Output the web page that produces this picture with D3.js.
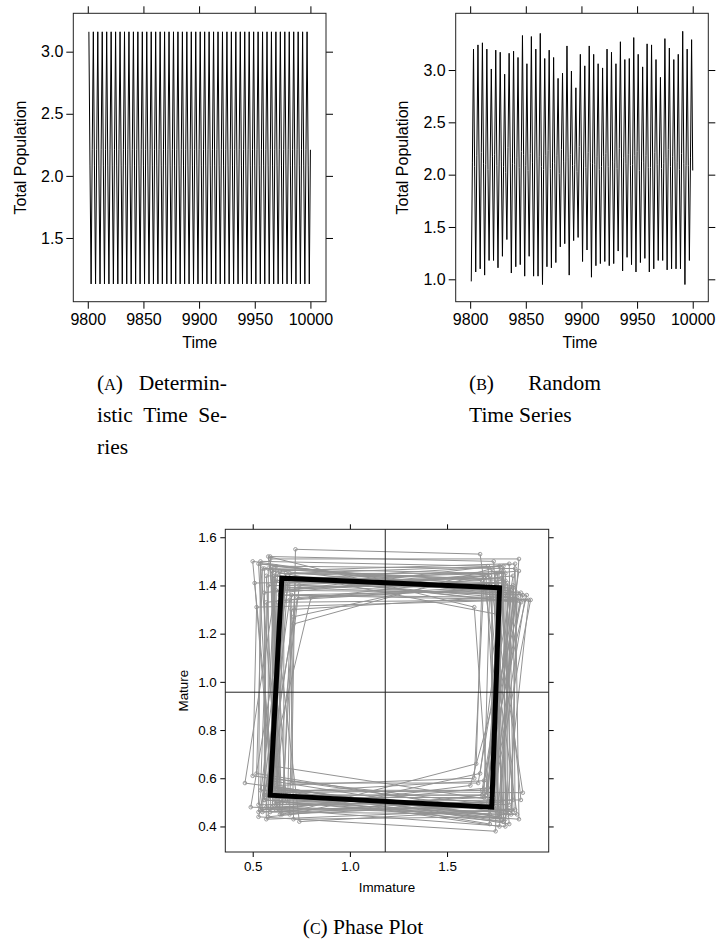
<!DOCTYPE html>
<html>
<head>
<meta charset="utf-8">
<script src="https://cdn.jsdelivr.net/npm/d3@7"></script>
<style>
  body { margin: 0; background: #fff; }
  svg { display: block; }
  .axis text { font-family: "Liberation Sans", Arial, sans-serif; fill: #000; }
  .axis line { stroke: #000; }
  .caption { font-family: "Liberation Serif", "Times New Roman", serif; font-size: 21.5px; fill: #000; }
</style>
</head>
<body>
<script>
// ---- data ----
const timeStart = 9801;
const nCycles = 50;

// deterministic run settles on a 4-cycle (peak, top-left, trough, bottom-right)
const detTotalCycle = [3.16, 2.08, 1.13, 2.21];
const detImmCycle   = [1.77, 0.65, 0.59, 1.73];
const detMatCycle   = [1.39, 1.43, 0.53, 0.48];

// random run, read per cycle: trough, rising mid, peak, falling mid
const randTroughs = [0.98, 1.07, 1.10, 1.04, 1.18, 1.18, 1.11, 1.22, 1.38, 1.06,
                     1.12, 1.14, 1.03, 1.22, 1.03, 1.03, 0.95, 1.12, 1.11, 1.16,
                     1.31, 1.34, 1.04, 1.37, 1.40, 1.17, 1.28, 1.02, 1.13, 1.15,
                     1.17, 1.13, 1.15, 1.27, 1.08, 1.21, 1.14, 1.07, 1.16, 1.20,
                     1.07, 1.10, 1.18, 1.18, 1.09, 1.10, 1.10, 1.10, 0.95, 1.18];
const randMidUp = [2.12, 2.18, 2.21, 2.10, 2.15, 2.19, 2.13, 2.08, 2.26, 2.11,
                   2.16, 2.22, 2.09, 2.20, 2.14, 2.17, 2.05, 2.23, 2.12, 2.18,
                   2.24, 2.13, 2.19, 2.10, 2.27, 2.15, 2.21, 2.11, 2.17, 2.08,
                   2.20, 2.14, 2.12, 2.25, 2.16, 2.19, 2.10, 2.22, 2.13, 2.18,
                   2.07, 2.21, 2.15, 2.11, 2.24, 2.17, 2.12, 2.20, 2.09, 2.16];
const randPeaks = [3.20, 3.24, 3.26, 3.20, 3.01, 3.19, 3.17, 2.96, 3.16, 3.18,
                   3.12, 3.33, 3.06, 3.32, 3.20, 3.35, 3.11, 3.19, 3.12, 2.92,
                   2.97, 3.23, 2.99, 2.83, 3.15, 3.04, 3.23, 3.15, 3.06, 3.02,
                   3.20, 3.17, 3.06, 3.27, 3.10, 3.11, 3.31, 3.15, 3.03, 3.25,
                   3.24, 3.10, 2.93, 3.30, 3.21, 3.10, 3.15, 3.37, 3.20, 3.29];
const randMidDown = [2.08, 2.14, 2.11, 2.05, 2.17, 2.09, 2.13, 2.02, 2.16, 2.10,
                     2.07, 2.19, 2.04, 2.12, 2.15, 2.08, 2.18, 2.06, 2.11, 2.01,
                     2.13, 2.16, 2.09, 2.03, 2.14, 2.07, 2.12, 2.10, 2.05, 2.17,
                     2.08, 2.13, 2.06, 2.15, 2.11, 2.09, 2.18, 2.04, 2.12, 2.07,
                     2.14, 2.10, 2.06, 2.16, 2.08, 2.13, 2.05, 2.11, 2.09, 2.04];

// phase plot, random run: corners bottom-left, bottom-right, top-right, top-left
const blImm = [0.55, 0.61, 0.58, 0.66, 0.53, 0.63, 0.59, 0.70, 0.56, 0.64, 0.50, 0.60, 0.67, 0.57, 0.62, 0.46, 0.65, 0.54, 0.61, 0.58,
               0.69, 0.52, 0.63, 0.60, 0.74, 0.56, 0.62, 0.59, 0.66, 0.53, 0.64, 0.57, 0.61, 0.68, 0.55, 0.60, 0.49, 0.63, 0.58, 0.65,
               0.56, 0.62, 0.71, 0.54, 0.59, 0.64, 0.57, 0.61, 0.53, 0.60];
const blMat = [0.47, 0.52, 0.44, 0.56, 0.49, 0.54, 0.46, 0.58, 0.51, 0.45, 0.61, 0.48, 0.53, 0.43, 0.57, 0.58, 0.50, 0.47, 0.55, 0.52,
               0.45, 0.62, 0.49, 0.56, 0.42, 0.53, 0.47, 0.59, 0.51, 0.44, 0.55, 0.48, 0.65, 0.50, 0.46, 0.54, 0.48, 0.52, 0.57, 0.45,
               0.51, 0.49, 0.43, 0.55, 0.60, 0.47, 0.53, 0.50, 0.46, 0.56];
const brImm = [1.72, 1.78, 1.68, 1.82, 1.75, 1.70, 1.86, 1.66, 1.79, 1.73, 1.84, 1.69, 1.77, 1.81, 1.64, 1.76, 1.88, 1.71, 1.80, 1.74,
               1.67, 1.83, 1.78, 1.72, 1.85, 1.70, 1.62, 1.77, 1.82, 1.75, 1.68, 1.80, 1.73, 1.87, 1.76, 1.69, 1.81, 1.74, 1.79, 1.65,
               1.83, 1.71, 1.77, 1.89, 1.73, 1.80, 1.70, 1.76, 1.84, 1.72];
const brMat = [0.48, 0.43, 0.53, 0.41, 0.50, 0.55, 0.45, 0.58, 0.42, 0.49, 0.46, 0.52, 0.40, 0.47, 0.60, 0.44, 0.51, 0.56, 0.43, 0.48,
               0.62, 0.45, 0.50, 0.41, 0.47, 0.53, 0.57, 0.44, 0.49, 0.38, 0.55, 0.46, 0.51, 0.43, 0.48, 0.59, 0.45, 0.52, 0.42, 0.66,
               0.47, 0.50, 0.44, 0.54, 0.49, 0.40, 0.53, 0.46, 0.51, 0.45];
const trImm = [1.82, 1.76, 1.86, 1.71, 1.79, 1.88, 1.67, 1.84, 1.74, 1.90, 1.78, 1.72, 1.85, 1.81, 1.69, 1.87, 1.77, 1.83, 1.92, 1.73,
               1.80, 1.86, 1.75, 1.64, 1.84, 1.79, 1.89, 1.70, 1.82, 1.76, 1.87, 1.81, 1.73, 1.85, 1.78, 1.91, 1.74, 1.83, 1.80, 1.68,
               1.86, 1.77, 1.84, 1.72, 1.88, 1.79, 1.85, 1.75, 1.82, 1.93];
const trMat = [1.38, 1.45, 1.35, 1.48, 1.41, 1.33, 1.53, 1.44, 1.37, 1.34, 1.46, 1.40, 1.49, 1.36, 1.43, 1.51, 1.39, 1.35, 1.34, 1.47,
               1.42, 1.37, 1.45, 1.31, 1.40, 1.48, 1.36, 1.44, 1.39, 1.28, 1.46, 1.41, 1.35, 1.47, 1.43, 1.36, 1.50, 1.38, 1.45, 1.42,
               1.34, 1.48, 1.39, 1.44, 1.37, 1.46, 1.33, 1.41, 1.49, 1.34];
const tlImm = [0.62, 0.58, 0.70, 0.54, 0.66, 0.61, 0.72, 0.57, 0.64, 0.52, 0.68, 0.60, 0.56, 0.74, 0.63, 0.59, 0.69, 0.50, 0.65, 0.71,
               0.55, 0.62, 0.67, 0.58, 0.73, 0.61, 0.53, 0.66, 0.80, 0.60, 0.64, 0.57, 0.70, 0.62, 0.51, 0.68, 0.59, 0.65, 0.72, 0.56,
               0.63, 0.69, 0.58, 0.66, 0.54, 0.71, 0.61, 0.67, 0.60, 0.64];
const tlMat = [1.42, 1.47, 1.36, 1.50, 1.39, 1.44, 1.55, 1.33, 1.46, 1.31, 1.41, 1.48, 1.37, 1.40, 1.45, 1.51, 1.34, 1.50, 1.43, 1.24,
               1.47, 1.38, 1.45, 1.52, 1.35, 1.42, 1.49, 1.40, 1.35, 1.46, 1.37, 1.44, 1.30, 1.48, 1.41, 1.39, 1.52, 1.36, 1.43, 1.47,
               1.33, 1.45, 1.40, 1.38, 1.49, 1.27, 1.44, 1.41, 1.46, 1.36];

// reference lines in the phase plot
const refImm = 1.182;
const refMat = 0.957;

const timeTicks = [9800, 9850, 9900, 9950, 10000];
const detTicks = [1.5, 2.0, 2.5, 3.0];
const randTicks = [1.0, 1.5, 2.0, 2.5, 3.0];
const immTicks = [0.5, 1.0, 1.5];
const matTicks = [0.4, 0.6, 0.8, 1.0, 1.2, 1.4, 1.6];

// ---- assemble series ----
const detSeries = [];
for (let i = 0; i < nCycles * 4; i++) {
  detSeries.push({ t: timeStart + i, v: detTotalCycle[i % 4] });
}
const randSeries = [];
const randPhase = [];
for (let k = 0; k < nCycles; k++) {
  const t0 = timeStart + 4 * k;
  randSeries.push({ t: t0, v: randTroughs[k] }, { t: t0 + 1, v: randMidUp[k] },
                  { t: t0 + 2, v: randPeaks[k] }, { t: t0 + 3, v: randMidDown[k] });
  randPhase.push({ i: blImm[k], m: blMat[k] }, { i: brImm[k], m: brMat[k] },
                 { i: trImm[k], m: trMat[k] }, { i: tlImm[k], m: tlMat[k] });
}
const detPhase = detImmCycle.map((d, j) => ({ i: d, m: detMatCycle[j] }));

// ---- drawing ----
const svg = d3.select("body").append("svg")
    .attr("width", 717)
    .attr("height", 943);
svg.append("rect").attr("width", 717).attr("height", 943).attr("fill", "#fff");

// lattice-style frame: labelled bottom/left, bare ticks top/right
function frame(g, x, y, xTicks, yTicks, o) {
  const [x0, x1] = x.range();
  const [y1, y0] = y.range();
  const fmt = o.fmt || (d => d3.format(".1f")(d));

  g.append("g").attr("class", "axis")
      .attr("transform", `translate(0,${y1})`)
      .call(d3.axisBottom(x).tickValues(xTicks).tickSize(o.tick).tickPadding(o.padX)
        .tickFormat(o.xfmt || fmt))
      .call(a => a.select(".domain").remove())
      .selectAll("text").style("font-size", o.font + "px");
  g.append("g").attr("class", "axis")
      .attr("transform", `translate(0,${y0})`)
      .call(d3.axisTop(x).tickValues(xTicks).tickSize(o.tick).tickFormat(""))
      .call(a => a.select(".domain").remove());
  g.append("g").attr("class", "axis")
      .attr("transform", `translate(${x0},0)`)
      .call(d3.axisLeft(y).tickValues(yTicks).tickSize(o.tick).tickPadding(o.padY).tickFormat(fmt))
      .call(a => a.select(".domain").remove())
      .selectAll("text").style("font-size", o.font + "px");
  g.append("g").attr("class", "axis")
      .attr("transform", `translate(${x1},0)`)
      .call(d3.axisRight(y).tickValues(yTicks).tickSize(o.tick).tickFormat(""))
      .call(a => a.select(".domain").remove());

  g.append("rect")
      .attr("x", x0).attr("y", y0)
      .attr("width", x1 - x0).attr("height", y1 - y0)
      .attr("fill", "none").attr("stroke", "#222").attr("stroke-width", 1);

  const lab = g.append("g").attr("class", "axis");
  lab.append("text")
      .attr("x", o.xlabX).attr("y", o.xlabY)
      .attr("text-anchor", "middle")
      .style("font-size", o.font + "px")
      .text(o.xlab);
  lab.append("text")
      .attr("transform", `translate(${o.ylabX},${(y0 + y1) / 2}) rotate(-90)`)
      .attr("text-anchor", "middle")
      .style("font-size", o.font + "px")
      .text(o.ylab);
}

function timePanel(data, left, right, yDomain, yTicks, ylabX, xlabX) {
  const x = d3.scaleLinear().domain([9787, 10014]).range([left, right]);
  const y = d3.scaleLinear().domain(yDomain).range([301.7, 13.3]);
  const g = svg.append("g");
  const line = d3.line().x(d => x(d.t)).y(d => y(d.v));
  g.append("path")
      .datum(data)
      .attr("d", line)
      .attr("fill", "none")
      .attr("stroke", "#000")
      .attr("stroke-width", 1);
  frame(g, x, y, timeTicks, yTicks, {
    tick: 7, padX: 4.5, padY: 3, font: 16,
    xfmt: d3.format("d"),
    xlab: "Time", xlabX: xlabX, xlabY: 348,
    ylab: "Total Population", ylabX: ylabX
  });
}

timePanel(detSeries, 73.3, 326, [0.987, 3.309], detTicks, 26, 199.7);
timePanel(randSeries, 455.7, 708.3, [0.786, 3.542], randTicks, 408, 580);

// phase plot
{
  const x = d3.scaleLinear().domain([0.359, 2.023]).range([225.3, 548.7]);
  const y = d3.scaleLinear().domain([0.294, 1.633]).range([852, 529.3]);
  const g = svg.append("g");
  const line = d3.line().x(d => x(d.i)).y(d => y(d.m));
  const grey = "#939393";

  g.append("path")
      .datum(randPhase)
      .attr("d", line)
      .attr("fill", "none")
      .attr("stroke", grey)
      .attr("stroke-width", 1);
  g.append("g").selectAll("circle")
      .data(randPhase)
      .join("circle")
      .attr("cx", d => x(d.i))
      .attr("cy", d => y(d.m))
      .attr("r", 1.8)
      .attr("fill", "none")
      .attr("stroke", grey)
      .attr("stroke-width", 0.9);

  g.append("line")
      .attr("x1", x(refImm)).attr("x2", x(refImm))
      .attr("y1", y.range()[0]).attr("y2", y.range()[1])
      .attr("stroke", "#222").attr("stroke-width", 1);
  g.append("line")
      .attr("x1", x.range()[0]).attr("x2", x.range()[1])
      .attr("y1", y(refMat)).attr("y2", y(refMat))
      .attr("stroke", "#222").attr("stroke-width", 1);

  g.append("path")
      .datum(detPhase)
      .attr("d", d3.line().x(d => x(d.i)).y(d => y(d.m)).curve(d3.curveLinearClosed))
      .attr("fill", "none")
      .attr("stroke", "#000")
      .attr("stroke-width", 5)
      .attr("stroke-linejoin", "miter");

  frame(g, x, y, immTicks, matTicks, {
    tick: 5, padX: 4.5, padY: 3.5, font: 13.4,
    xlab: "Immature", xlabX: 387, xlabY: 891.5,
    ylab: "Mature", ylabX: 188
  });
}

// ---- captions (justified like the source text) ----
function capLine(words, x0, x1, yb) {
  const g = svg.append("g").attr("class", "caption");
  const nodes = words.map(w => {
    const t = g.append("text").attr("y", yb);
    w.forEach(p => {
      const s = t.append("tspan").text(p.s);
      if (p.sc) s.style("font-size", "16px");
    });
    return t;
  });
  const widths = nodes.map(n => n.node().getComputedTextLength());
  if (x1 == null || nodes.length < 2) {
    let cx = x0;
    nodes.forEach((n, j) => { n.attr("x", cx); cx += widths[j] + 5.4; });
    return;
  }
  const gap = (x1 - x0 - d3.sum(widths)) / (nodes.length - 1);
  let cx = x0;
  nodes.forEach((n, j) => { n.attr("x", cx); cx += widths[j] + gap; });
}

const W = s => [{ s }];
const SC = (l) => [{ s: "(" }, { s: l, sc: true }, { s: ")" }];

capLine([SC("A"), W("Determin-")], 97, 227, 389.5);
capLine([W("istic"), W("Time"), W("Se-")], 97, 227, 421.5);
capLine([W("ries")], 97, null, 453.5);
capLine([SC("B"), W("Random")], 469, 601, 389.5);
capLine([W("Time"), W("Series")], 469, null, 421.5);

// centred caption under the phase plot
{
  const t = svg.append("text").attr("class", "caption")
      .attr("x", 363).attr("y", 934)
      .attr("text-anchor", "middle");
  t.append("tspan").text("(");
  t.append("tspan").text("C").style("font-size", "16px");
  t.append("tspan").text(") Phase Plot");
}
</script>
</body>
</html>
